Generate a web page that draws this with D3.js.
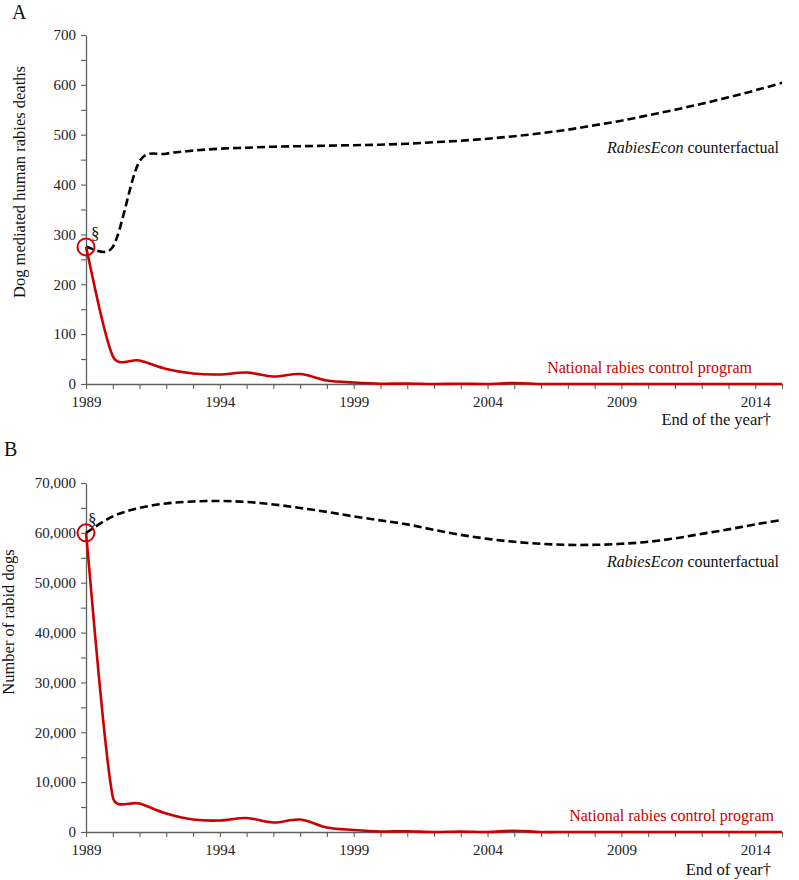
<!DOCTYPE html>
<html>
<head>
<meta charset="utf-8">
<script src="https://cdn.jsdelivr.net/npm/d3@7"></script>
<style>
  html, body { margin: 0; padding: 0; background: #fff; }
  svg { display: block; }
</style>
</head>
<body>
<svg id="chart" width="799" height="880"></svg>
<script>
// ---------------- data ----------------
const years = [1989, 1990, 1991, 1992, 1993, 1994, 1995, 1996, 1997, 1998, 1999, 2000, 2001, 2002,
               2003, 2004, 2005, 2006, 2007, 2008, 2009, 2010, 2011, 2012, 2013, 2014, 2015];
const yearTickLabels = [1989, 1994, 1999, 2004, 2009, 2014];

// Panel A: dog mediated human rabies deaths
const deathsCounterfactual = [275, 275, 447, 462, 468, 472, 474, 476, 477, 478, 479, 480, 482, 485,
                              488, 492, 497, 503, 510, 519, 528, 539, 550, 562, 575, 589, 604];
const deathsProgram = [275, 56, 47, 30, 21, 19, 23, 15, 20, 7, 3, 0.5, 1, 0,
                       0.5, 0, 2, 0, 0, 0, 0, 0, 0, 0, 0, 0, 0];
const deathsTickLabels = [0, 100, 200, 300, 400, 500, 600, 700];

// Panel B: number of rabid dogs
const dogsCounterfactual = [60000, 63300, 65000, 65900, 66300, 66400, 66200, 65700, 65000, 64200, 63300, 62500, 61700, 60600,
                            59600, 58800, 58200, 57800, 57600, 57600, 57800, 58200, 58900, 59800, 60700, 61700, 62600];
const dogsProgram = [60000, 7000, 5700, 3700, 2500, 2300, 2800, 1900, 2500, 900, 400, 100, 150, 0,
                     100, 0, 250, 0, 0, 0, 0, 0, 0, 0, 0, 0, 0];
const dogsTickLabels = [0, 10000, 20000, 30000, 40000, 50000, 60000, 70000];

// ---------------- smoothing curve (spreadsheet-style smoothed line) ----------------
function SmoothCurve(context) { this._context = context; }
SmoothCurve.prototype = {
  areaStart() { this._line = 0; },
  areaEnd() { this._line = NaN; },
  lineStart() { this._pts = []; },
  point(x, y) { this._pts.push([+x, +y]); },
  lineEnd() {
    const p = this._pts, c = this._context, n = p.length;
    if (!n) return;
    c.moveTo(p[0][0], p[0][1]);
    for (let i = 0; i < n - 1; i++) {
      const a = p[i - 1] || p[i], b = p[i], q = p[i + 1], r = p[i + 2] || p[i + 1];
      const d = Math.hypot(q[0] - b[0], q[1] - b[1]);
      const d1 = Math.hypot(q[0] - a[0], q[1] - a[1]);
      const d2 = Math.hypot(r[0] - b[0], r[1] - b[1]);
      const f1 = d1 ? Math.min(1 / 6, d / (2 * d1)) : 0;
      const f2 = d2 ? Math.min(1 / 6, d / (2 * d2)) : 0;
      c.bezierCurveTo(
        b[0] + (q[0] - a[0]) * f1, b[1] + (q[1] - a[1]) * f1,
        q[0] - (r[0] - b[0]) * f2, q[1] - (r[1] - b[1]) * f2,
        q[0], q[1]);
    }
  }
};
const curveSmooth = ctx => new SmoothCurve(ctx);

// ---------------- drawing ----------------
const SERIF = '"Liberation Serif", "Times New Roman", Times, serif';
const svg = d3.select("#chart");
const RED = "#cc0000";
const AXIS = "#5f5f5f";
const FONT_TICK = 15;

const x = d3.scaleLinear().domain([1989, 2015]).range([86, 782]);

function addText(g, txt) {
  return g.append("text").text(txt).attr("font-family", SERIF).attr("fill", "#111");
}

function panel(cfg) {
  const g = svg.append("g");
  const y = d3.scaleLinear().domain([0, cfg.max]).range([cfg.bottom, cfg.top]);

  // x axis
  const xAxis = d3.axisBottom(x)
    .tickValues(years)
    .tickSize(5)
    .tickSizeOuter(0)
    .tickFormat(d => yearTickLabels.includes(d) ? String(d) : "");
  const xg = g.append("g").attr("transform", `translate(0,${cfg.bottom})`).call(xAxis);
  xg.selectAll("text").attr("dy", null).attr("y", 23);

  // y axis
  const yAxis = d3.axisLeft(y)
    .tickValues(d3.range(0, cfg.max + 1, cfg.max / 14))
    .tickSize(5)
    .tickSizeOuter(0)
    .tickFormat(d => cfg.labels.includes(d) ? cfg.fmt(d) : "");
  const yg = g.append("g").attr("transform", `translate(${x(1989)},0)`).call(yAxis);
  yg.selectAll("text").attr("x", -10);

  [xg, yg].forEach(a => {
    a.attr("font-family", SERIF).attr("font-size", FONT_TICK);
    a.select(".domain").attr("stroke", AXIS).attr("stroke-width", 1.3);
    a.selectAll(".tick line").attr("stroke", AXIS).attr("stroke-width", 1.1);
    a.selectAll(".tick text").attr("fill", "#222").attr("font-size", FONT_TICK)
      .attr("font-family", SERIF);
  });

  // lines
  const line = d3.line()
    .x((d, i) => x(years[i]))
    .y(d => y(d))
    .curve(curveSmooth);

  g.append("path").datum(cfg.counter)
    .attr("d", line).attr("fill", "none")
    .attr("stroke", "#000").attr("stroke-width", 2.6)
    .attr("stroke-dasharray", "8,4");

  g.append("path").datum(cfg.program)
    .attr("d", line).attr("fill", "none")
    .attr("stroke", RED).attr("stroke-width", 2.6)
    .attr("stroke-linejoin", "round");

  // start marker
  g.append("circle")
    .attr("cx", x(years[0])).attr("cy", y(cfg.program[0])).attr("r", 8.5)
    .attr("fill", "none").attr("stroke", RED).attr("stroke-width", 2);
  addText(g, "§")
    .attr("x", x(years[0]) + cfg.sectDx).attr("y", y(cfg.program[0]) - 8)
    .attr("font-size", 17);

  // panel letter
  addText(g, cfg.letter)
    .attr("x", cfg.letterX).attr("y", cfg.letterY).attr("font-size", 20);

  // y title
  addText(g, cfg.yTitle)
    .attr("transform", `translate(${cfg.yTitleX},${cfg.yTitleY}) rotate(-90)`)
    .attr("text-anchor", "middle").attr("font-size", 16.5);

  // x title
  addText(g, cfg.xTitle)
    .attr("x", 771).attr("y", cfg.xTitleY)
    .attr("text-anchor", "end").attr("font-size", 16.5);

  // series labels
  const cf = addText(g, null).attr("x", 779).attr("y", cfg.cfLabelY)
    .attr("text-anchor", "end").attr("font-size", 16);
  cf.append("tspan").attr("font-style", "italic").text("RabiesEcon");
  cf.append("tspan").text(" counterfactual");

  addText(g, "National rabies control program")
    .attr("x", cfg.progLabelX).attr("y", cfg.progLabelY)
    .attr("text-anchor", "end").attr("font-size", 16).attr("fill", RED);
}

panel({
  max: 700, top: 35, bottom: 384,
  labels: deathsTickLabels, fmt: d3.format("d"),
  counter: deathsCounterfactual, program: deathsProgram,
  letter: "A", letterX: 12, letterY: 19,
  yTitle: "Dog mediated human rabies deaths", yTitleX: 25, yTitleY: 182,
  xTitle: "End of the year\u2020", xTitleY: 425,
  cfLabelY: 153, progLabelX: 752, progLabelY: 373,
  sectDx: 5
});

panel({
  max: 70000, top: 483, bottom: 832,
  labels: dogsTickLabels, fmt: d3.format(","),
  counter: dogsCounterfactual, program: dogsProgram,
  letter: "B", letterX: 4, letterY: 456,
  yTitle: "Number of rabid dogs", yTitleX: 14, yTitleY: 622,
  xTitle: "End of year\u2020", xTitleY: 875,
  cfLabelY: 567, progLabelX: 774, progLabelY: 821,
  sectDx: 2
});
</script>
</body>
</html>
